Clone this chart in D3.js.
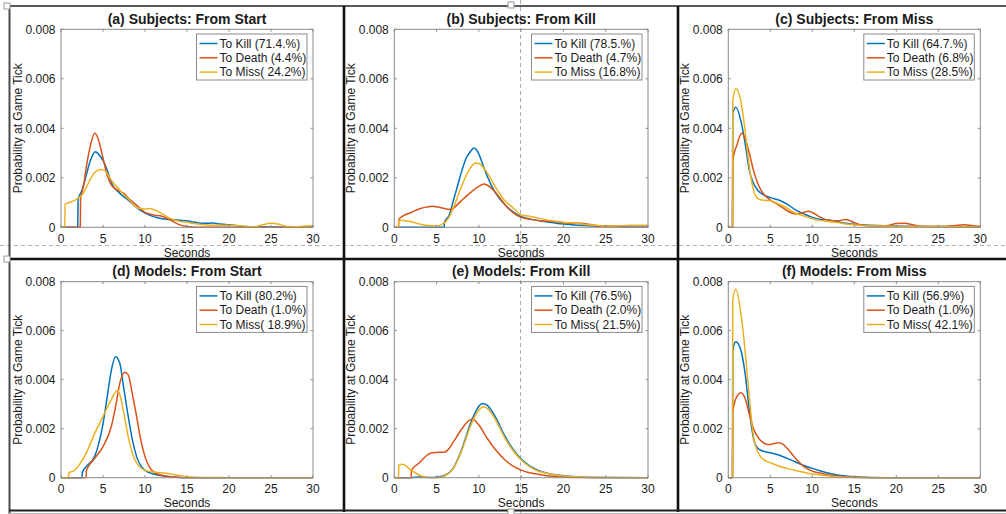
<!DOCTYPE html>
<html>
<head>
<meta charset="utf-8">
<script src="https://cdn.jsdelivr.net/npm/d3@7"></script>
<style>
  html, body { margin: 0; padding: 0; background: #fff; }
  svg { display: block; }
  text { font-family: "Liberation Sans", Arial, Helvetica, sans-serif; fill: #1a1a1a; }
</style>
</head>
<body>
<svg id="fig" width="1006" height="514"></svg>
<script>
// ---- axis ticks -------------------------------------------------------
const xTicks = [0, 5, 10, 15, 20, 25, 30];
const yTicks = [0, 0.002, 0.004, 0.006, 0.008];
const yTickLabels = ["0", "0.002", "0.004", "0.006", "0.008"];
const xLabel = "Seconds";
const yLabel = "Probability at Game Tick";
const seriesColors = ["#0072BD", "#D95319", "#EDB120"];

// ---- panel titles and legend entries --------------------------------
const panelTitles = [
  "(a) Subjects: From Start", "(b) Subjects: From Kill", "(c) Subjects: From Miss",
  "(d) Models: From Start", "(e) Models: From Kill", "(f) Models: From Miss"
];
const legendSubjStart = ["To Kill (71.4.%)", "To Death (4.4%)", "To Miss( 24.2%)"];
const legendSubjKill  = ["To Kill (78.5.%)", "To Death (4.7%)", "To Miss (16.8%)"];
const legendSubjMiss  = ["To Kill (64.7.%)", "To Death (6.8%)", "To Miss (28.5%)"];
const legendModStart  = ["To Kill (80.2%)", "To Death (1.0%)", "To Miss( 18.9%)"];
const legendModKill   = ["To Kill (76.5%)", "To Death (2.0%)", "To Miss( 21.5%)"];
const legendModMiss   = ["To Kill (56.9%)", "To Death (1.0%)", "To Miss( 42.1%)"];

// ---- densities: [seconds, probability per game tick] -----------------
// (a) Subjects, from start
const subjStartKill = [[0,0],[2.0,0],[2.03,0.0011],[2.5,0.0015],[3,0.0021],[3.5,0.0027],[4.1,0.00305],[4.6,0.0029],[5,0.0027],[5.5,0.0023],[6,0.0018],[7,0.00137],[8,0.0011],[9,0.0008],[10,0.00057],[11,0.00043],[12,0.00035],[13,0.00032],[14,0.00028],[15,0.00026],[16,0.0002],[17,0.00016],[18,0.00017],[19,0.00013],[20,0.0001],[22,0.00003],[25,0.00001],[30,0]];
const subjStartDeath = [[0,0],[2.3,0],[2.33,0.0011],[2.7,0.0017],[3,0.0024],[3.5,0.0033],[4.0,0.0038],[4.4,0.0036],[5,0.0028],[5.5,0.0021],[6,0.0017],[6.5,0.00155],[7,0.00145],[7.5,0.00137],[8,0.00118],[9,0.0009],[10,0.0006],[11,0.0005],[12,0.00045],[13,0.0003],[14,0.00012],[15,0.00003],[16,0],[30,0]];
const subjStartMiss = [[0,0],[0.45,0],[0.48,0.00093],[1,0.001],[1.5,0.00107],[2,0.00117],[2.5,0.0013],[3,0.0016],[3.5,0.00195],[4,0.0022],[4.7,0.00234],[5.2,0.0023],[6,0.0019],[7,0.0015],[8,0.00115],[9,0.0008],[10,0.00074],[10.5,0.00076],[11,0.00072],[12,0.00055],[13,0.00036],[14,0.00025],[15,0.0002],[16,0.00014],[17,0.0001],[18,0.00008],[20,0.00008],[21,0.00007],[22,0.00003],[23,0.00002],[24,0.0001],[25,0.00016],[26,0.00012],[27,0.00003],[28,0.00002],[29,0.00005],[30,0.00006]];

// (b) Subjects, from kill
const subjKillKill = [[0,0],[5.9,0],[5.93,0.0002],[6.5,0.0005],[7,0.0011],[7.5,0.0017],[8,0.0023],[8.5,0.0028],[9,0.00306],[9.4,0.0032],[10,0.00296],[10.5,0.0025],[11,0.00205],[12,0.00137],[13,0.00094],[14,0.00063],[15,0.00043],[16,0.00034],[17,0.00027],[18,0.00022],[20,0.00013],[22,0.00008],[25,0.00004],[30,0.00001]];
const subjKillDeath = [[0,0],[0.5,0],[0.53,0.00032],[1,0.00045],[2,0.0006],[3,0.00075],[4,0.00083],[4.5,0.00085],[5,0.00083],[6,0.00075],[6.5,0.00072],[7,0.00078],[8,0.0011],[9,0.0014],[10,0.00165],[10.6,0.00175],[11,0.0017],[12,0.0014],[13,0.00095],[14,0.0006],[15,0.0004],[16,0.00033],[17,0.00028],[18,0.00025],[19,0.00022],[20,0.00018],[21,0.00016],[22,0.00016],[23,0.00012],[24,0.00006],[25,0.00004],[26,0.00004],[27,0.00006],[28,0.00007],[30,0.00007]];
const subjKillMiss = [[0,0],[0.5,0],[0.53,0.00028],[1,0.00027],[2,0.00022],[3,0.00013],[4,0.00007],[5,0.00005],[5.5,0.0001],[6,0.0002],[6.5,0.00042],[7,0.0008],[8,0.0017],[9,0.0024],[9.6,0.0026],[10,0.00258],[11,0.0022],[12,0.0016],[13,0.0011],[14,0.0008],[15,0.0005],[16,0.00045],[17,0.00037],[18,0.0003],[19,0.00025],[20,0.0002],[21,0.00018],[22,0.00014],[23,0.0001],[24,0.00008],[25,0.00005],[26,0.00005],[27,0.00006],[30,0.00006]];

// (c) Subjects, from miss
const subjMissKill = [[0,0],[0.5,0],[0.53,0.0046],[0.9,0.00485],[1.5,0.0043],[2,0.0034],[2.5,0.0023],[3,0.00178],[3.5,0.0015],[4,0.00135],[5,0.0012],[6,0.0011],[7,0.00094],[8,0.0007],[9,0.00054],[10,0.0004],[11,0.00032],[12,0.0003],[13,0.00023],[14,0.00016],[15,0.00012],[16,0.0001],[17,0.00008],[18,0.00007],[20,0.00005],[22,0.00004],[25,0.00003],[30,0.00001]];
const subjMissDeath = [[0,0],[0.5,0],[0.53,0.0027],[1,0.0033],[1.6,0.0038],[2,0.0036],[2.5,0.003],[3,0.0023],[3.5,0.00178],[4,0.00144],[5,0.0011],[6,0.0009],[7,0.00067],[8,0.00054],[9,0.0006],[9.5,0.00065],[10,0.0006],[11,0.0004],[12,0.00027],[13,0.00026],[14,0.00032],[15,0.00019],[16,0.00008],[17,0.00005],[18,0.00004],[19,0.00007],[20,0.00015],[21,0.00016],[22,0.0001],[23,0.00004],[25,0.00003],[26,0.00004],[27,0.00007],[28,0.0001],[29,0.00007],[30,0.00003]];
const subjMissMiss = [[0,0],[0.5,0],[0.53,0.0051],[0.9,0.0056],[1.5,0.0051],[2,0.0039],[2.5,0.00245],[3,0.0015],[3.5,0.00117],[4,0.0011],[5,0.00107],[6,0.00094],[7,0.00077],[8,0.00057],[9,0.00046],[10,0.00034],[11,0.00027],[12,0.00023],[13,0.00019],[14,0.00013],[15,0.0001],[16,0.00007],[18,0.00006],[20,0.00004],[25,0.00003],[30,0.00001]];

// (d) Models, from start
const modStartKill = [[0,0],[2.5,0],[2.53,0.0002],[3,0.00045],[4,0.00086],[4.5,0.0014],[5,0.0022],[5.5,0.0033],[6,0.0044],[6.5,0.00494],[7,0.00467],[7.5,0.0036],[8,0.0025],[8.5,0.00154],[9,0.00086],[10,0.0003],[11,0.00015],[12,0.00008],[13,0.00004],[14,0.00001],[15,0],[30,0]];
const modStartDeath = [[0,0],[3,0],[3.03,0.0003],[4,0.00078],[5,0.00127],[6,0.0021],[6.5,0.0029],[7,0.00385],[7.6,0.0043],[8,0.0042],[8.5,0.0034],[9,0.0025],[9.5,0.00154],[10,0.00086],[10.5,0.00045],[11,0.00025],[12,0.0001],[13,0.00004],[14,0.00002],[15,0],[30,0]];
const modStartMiss = [[0,0],[0.9,0],[0.93,0.0002],[1.5,0.00028],[2,0.00045],[3,0.001],[4,0.0018],[5,0.0025],[6,0.0032],[6.7,0.00356],[7,0.0034],[7.5,0.0026],[8,0.00167],[8.5,0.001],[9,0.0006],[10,0.0003],[11,0.00023],[12,0.0002],[13,0.00015],[14,0.0001],[15,0.00004],[16,0.00002],[18,0.00001],[20,0],[30,0]];

// (e) Models, from kill
const modKillKill = [[0,0],[2,0],[3,0.00003],[4,0.00001],[5,0.00002],[6,0.0001],[7,0.0004],[8,0.00118],[9,0.0022],[10,0.00292],[10.4,0.00303],[11,0.00295],[12,0.00245],[13,0.00175],[14,0.00118],[15,0.00076],[16,0.00048],[17,0.0003],[18,0.00019],[19,0.00012],[20,0.00008],[22,0.00003],[25,0.00001],[30,0]];
const modKillDeath = [[0,0],[2,0],[2.03,0.0003],[3,0.00062],[4,0.00095],[4.5,0.00102],[5,0.00103],[6,0.00105],[6.5,0.0012],[7,0.00147],[8,0.002],[8.7,0.0023],[9.2,0.0024],[10,0.00215],[11,0.0016],[12,0.00113],[13,0.00075],[14,0.00048],[15,0.00031],[16,0.0002],[17,0.00014],[18,0.00008],[20,0.00003],[22,0.00001],[25,0],[30,0]];
const modKillMiss = [[0,0],[0.5,0],[0.53,0.00052],[1,0.00055],[2,0.0003],[3,0.0001],[4,0.00001],[5,0],[6,0.00008],[7,0.00038],[8,0.00113],[9,0.0021],[10,0.00276],[10.5,0.0029],[11,0.00283],[12,0.00235],[13,0.00167],[14,0.00113],[15,0.00072],[16,0.00045],[17,0.00027],[18,0.00018],[19,0.00011],[20,0.00007],[22,0.00003],[25,0.00001],[30,0]];

// (f) Models, from miss
const modMissKill = [[0,0],[0.5,0],[0.53,0.0052],[0.9,0.00555],[1.5,0.0052],[2,0.00426],[2.5,0.00276],[3,0.0016],[3.5,0.0012],[4,0.0011],[5,0.00102],[6,0.00093],[7,0.00079],[8,0.00064],[9,0.0005],[10,0.00038],[11,0.00027],[12,0.00018],[13,0.00011],[14,0.00007],[15,0.00004],[17,0.00001],[20,0],[30,0]];
const modMissDeath = [[0,0],[0.5,0],[0.53,0.0027],[1,0.0033],[1.5,0.00347],[2,0.00324],[2.5,0.0026],[3,0.002],[3.5,0.00167],[4,0.00147],[4.5,0.00137],[5,0.00136],[5.5,0.0014],[6,0.00143],[6.5,0.00137],[7,0.0012],[8,0.00079],[9,0.00045],[10,0.00027],[11,0.00018],[12,0.00011],[13,0.00007],[14,0.00004],[15,0.00002],[17,0],[30,0]];
const modMissMiss = [[0,0],[0.5,0],[0.53,0.00725],[0.9,0.00769],[1.5,0.0067],[2,0.0052],[2.5,0.0033],[3,0.00167],[3.5,0.00106],[4,0.00079],[5,0.00061],[6,0.00048],[7,0.00038],[8,0.00029],[9,0.00022],[10,0.00015],[11,0.00011],[12,0.00007],[13,0.00004],[15,0.00001],[20,0],[30,0]];

// ---- panel table ----------------------------------------------------
const panels = [
  { title: panelTitles[0], legend: legendSubjStart, series: [subjStartKill, subjStartDeath, subjStartMiss] },
  { title: panelTitles[1], legend: legendSubjKill,  series: [subjKillKill,  subjKillDeath,  subjKillMiss] },
  { title: panelTitles[2], legend: legendSubjMiss,  series: [subjMissKill,  subjMissDeath,  subjMissMiss] },
  { title: panelTitles[3], legend: legendModStart,  series: [modStartKill,  modStartDeath,  modStartMiss] },
  { title: panelTitles[4], legend: legendModKill,   series: [modKillKill,   modKillDeath,   modKillMiss] },
  { title: panelTitles[5], legend: legendModMiss,   series: [modMissKill,   modMissDeath,   modMissMiss] }
];

// ---- layout ---------------------------------------------------------
const cols = [{ l: 61, r: 313 }, { l: 394.3, r: 648 }, { l: 728.3, r: 980.3 }];
const rows = [{ t: 29.3, b: 227.3 }, { t: 281.7, b: 477.7 }];
const axisColor = "#8a8a8a";

const svg = d3.select("#fig");
svg.append("rect").attr("width", 1006).attr("height", 514).attr("fill", "#fff");

// page guides (dashed)
svg.append("line").attr("x1", 0).attr("x2", 1006).attr("y1", 245.5).attr("y2", 245.5)
  .attr("stroke", "#b0b0b0").attr("stroke-width", 1).attr("stroke-dasharray", "4,3");
svg.append("line").attr("x1", 520.5).attr("x2", 520.5).attr("y1", 0).attr("y2", 514)
  .attr("stroke", "#b0b0b0").attr("stroke-width", 1).attr("stroke-dasharray", "4,3");

panels.forEach((p, i) => {
  const c = cols[i % 3], r = rows[Math.floor(i / 3)];
  const x = d3.scaleLinear().domain([0, 30]).range([c.l, c.r]);
  const y = d3.scaleLinear().domain([0, 0.008]).range([r.b, r.t]);
  const g = svg.append("g");
  const clipId = "clip" + i;
  g.append("clipPath").attr("id", clipId).append("rect")
    .attr("x", c.l).attr("y", r.t - 1).attr("width", c.r - c.l).attr("height", r.b - r.t + 2);

  // curves
  const line = d3.line().x(d => x(d[0])).y(d => y(d[1])).curve(d3.curveMonotoneX);
  p.series.forEach((s, k) => {
    g.append("path").datum(s).attr("d", line).attr("fill", "none")
      .attr("stroke", seriesColors[k]).attr("stroke-width", 1.5)
      .attr("stroke-linejoin", "round").attr("clip-path", `url(#${clipId})`);
  });

  // axes box and inward ticks
  g.append("rect").attr("x", c.l).attr("y", r.t).attr("width", c.r - c.l).attr("height", r.b - r.t)
    .attr("fill", "none").attr("stroke", axisColor).attr("stroke-width", 1);
  const tl = 2.5;
  xTicks.forEach(t => {
    g.append("line").attr("x1", x(t)).attr("x2", x(t)).attr("y1", r.b).attr("y2", r.b - tl).attr("stroke", axisColor);
    g.append("line").attr("x1", x(t)).attr("x2", x(t)).attr("y1", r.t).attr("y2", r.t + tl).attr("stroke", axisColor);
    g.append("text").attr("x", x(t)).attr("y", r.b + 15.5).attr("text-anchor", "middle")
      .attr("font-size", 12).text(t);
  });
  yTicks.forEach((t, k) => {
    g.append("line").attr("x1", c.l).attr("x2", c.l + tl).attr("y1", y(t)).attr("y2", y(t)).attr("stroke", axisColor);
    g.append("line").attr("x1", c.r).attr("x2", c.r - tl).attr("y1", y(t)).attr("y2", y(t)).attr("stroke", axisColor);
    g.append("text").attr("x", c.l - 5.5).attr("y", y(t) + 4.3).attr("text-anchor", "end")
      .attr("font-size", 12).text(yTickLabels[k]);
  });

  // labels and title
  const cx = (c.l + c.r) / 2, cy = (r.t + r.b) / 2;
  g.append("text").attr("x", cx).attr("y", r.b + 29.5).attr("text-anchor", "middle")
    .attr("font-size", 12).text(xLabel);
  g.append("text").attr("transform", `translate(${c.l - 39.5},${cy}) rotate(-90)`)
    .attr("text-anchor", "middle").attr("font-size", 12).text(yLabel);
  g.append("text").attr("x", cx).attr("y", r.t - 5.5).attr("text-anchor", "middle")
    .attr("font-size", 14).attr("font-weight", "bold").text(p.title);

  // legend
  const lw = 110.5, lh = 46;
  const lx = c.r - 6 - lw, ly = r.t + 4.7;
  const lg = g.append("g");
  lg.append("rect").attr("x", lx).attr("y", ly).attr("width", lw).attr("height", lh)
    .attr("fill", "#fff").attr("stroke", axisColor).attr("stroke-width", 1);
  p.legend.forEach((lab, k) => {
    const yy = ly + 9.5 + k * 14.3;
    lg.append("line").attr("x1", lx + 3).attr("x2", lx + 21).attr("y1", yy).attr("y2", yy)
      .attr("stroke", seriesColors[k]).attr("stroke-width", 1.5);
    lg.append("text").attr("x", lx + 23).attr("y", yy + 4.2).attr("font-size", 12).text(lab);
  });
});

// table frame
const frame = svg.append("g");
frame.append("line").attr("x1", 9).attr("x2", 1006).attr("y1", 6).attr("y2", 6).attr("stroke", "#5a5a5a").attr("stroke-width", 2.2);
frame.append("line").attr("x1", 9.5).attr("x2", 9.5).attr("y1", 5).attr("y2", 514).attr("stroke", "#4a4a4a").attr("stroke-width", 2);
[344, 678].forEach(v => frame.append("line").attr("x1", v).attr("x2", v).attr("y1", 6).attr("y2", 512)
  .attr("stroke", "#111").attr("stroke-width", 2.6));
frame.append("line").attr("x1", 9).attr("x2", 1006).attr("y1", 259).attr("y2", 259).attr("stroke", "#111").attr("stroke-width", 2.6);
frame.append("line").attr("x1", 9).attr("x2", 1006).attr("y1", 510.5).attr("y2", 510.5).attr("stroke", "#222").attr("stroke-width", 2);
frame.append("line").attr("x1", 9).attr("x2", 1006).attr("y1", 513.5).attr("y2", 513.5).attr("stroke", "#bbb").attr("stroke-width", 1);

// selection handles
[[7, 6], [511, 5], [7, 259], [511, 512]].forEach(([hx, hy]) => {
  frame.append("rect").attr("x", hx - 3).attr("y", hy - 3).attr("width", 6).attr("height", 6)
    .attr("fill", "#fff").attr("stroke", "#9a9a9a").attr("stroke-width", 1);
});
</script>
</body>
</html>
